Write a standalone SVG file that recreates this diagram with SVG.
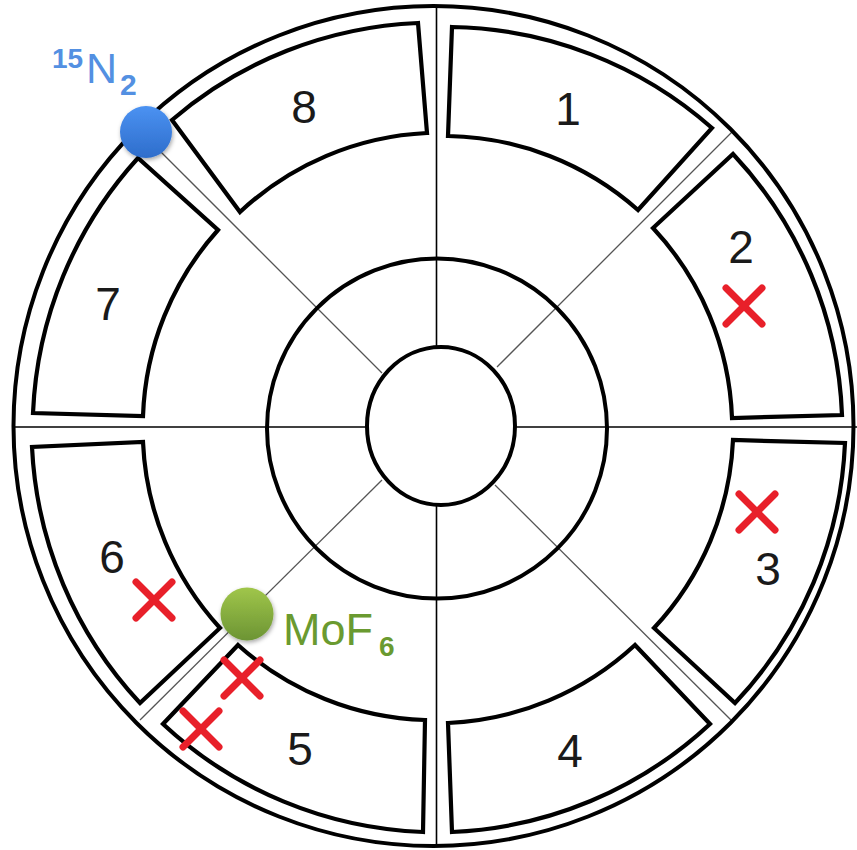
<svg xmlns="http://www.w3.org/2000/svg" width="857" height="850" viewBox="0 0 857 850">
<style>
.ring{fill:none;stroke:#000;stroke-width:4}
.box{fill:#fff;stroke:#000;stroke-width:4.2;stroke-linejoin:miter}
.axis{stroke:#000;stroke-width:1.6}
.diag{stroke:#555;stroke-width:1.3}
.num{font-family:"Liberation Sans",Arial,sans-serif;font-size:46px;fill:#1a1a1a;text-anchor:middle}
.x{stroke:#e8202a;stroke-width:7;stroke-linecap:round}
</style>
<defs>
<linearGradient id="gBlue" x1="0" y1="0" x2="0" y2="1">
<stop offset="0" stop-color="#4b92f2"/>
<stop offset="1" stop-color="#2e6dcb"/>
</linearGradient>
<linearGradient id="gGreen" x1="0" y1="0" x2="0" y2="1">
<stop offset="0" stop-color="#a0c64a"/>
<stop offset="1" stop-color="#6c9434"/>
</linearGradient>
<filter id="sh" x="-40%" y="-40%" width="180%" height="180%">
<feDropShadow dx="1" dy="2" stdDeviation="2" flood-color="#000" flood-opacity="0.35"/>
</filter>
<g id="xmark"><line class="x" x1="-18" y1="-18" x2="18" y2="18"/><line class="x" x1="18" y1="-18" x2="-18" y2="18"/></g>
</defs>
<rect width="857" height="850" fill="#fff"/>
<g id="dividers">
<line class="axis" x1="436.5" y1="8" x2="436.5" y2="347"/>
<line class="axis" x1="436.5" y1="505" x2="436.5" y2="846"/>
<line class="axis" x1="13" y1="427" x2="367" y2="427"/>
<line class="axis" x1="515" y1="427" x2="857" y2="427"/>
<line class="diag" x1="382" y1="373" x2="140" y2="131"/>
<line class="diag" x1="497" y1="367" x2="733" y2="131"/>
<line class="diag" x1="495" y1="485" x2="733" y2="722"/>
<line class="diag" x1="382" y1="480" x2="140" y2="720"/>
</g>
<g id="rings">
<circle class="ring" cx="433.5" cy="426" r="420" stroke-width="3.6"/>
<circle class="ring" cx="437" cy="428.5" r="170"/>
<ellipse class="ring" cx="441" cy="426" rx="74" ry="79"/>
</g>
<g id="box1"><path class="box" d="M452,27 A404,404 0 0 1 712,128 L638,210 A294,294 0 0 0 448,136 Z"/><text class="num" x="568" y="125">1</text></g>
<g id="box2"><path class="box" d="M733,154 A404,404 0 0 1 842,415 L732,418 A294,294 0 0 0 653,228 Z"/><text class="num" x="741" y="263">2</text></g>
<g id="box3"><path class="box" d="M845,443 A404,404 0 0 1 735,703 L654,628 A294,294 0 0 0 733,440 Z"/><text class="num" x="768" y="585">3</text></g>
<g id="box4"><path class="box" d="M710,724 A404,404 0 0 1 452,832 L448,723 A294,294 0 0 0 635,645 Z"/><text class="num" x="570" y="767">4</text></g>
<g id="box5"><path class="box" d="M423,832 A404,404 0 0 1 163,724 L238,645 A294,294 0 0 0 425,720 Z"/><text class="num" x="300" y="765">5</text></g>
<g id="box6"><path class="box" d="M140,703 A404,404 0 0 1 32,447 L143,442 A294,294 0 0 0 220,628 Z"/><text class="num" x="112" y="573">6</text></g>
<g id="box7"><path class="box" d="M33,413 A404,404 0 0 1 138,158 L218,230 A294,294 0 0 0 143,416 Z"/><text class="num" x="108" y="320">7</text></g>
<g id="box8"><path class="box" d="M172,120 A404,404 0 0 1 418,23 L427,133 A294,294 0 0 0 240,212 Z"/><text class="num" x="304" y="123">8</text></g>
<g id="marks">
<use href="#xmark" x="744" y="306"/>
<use href="#xmark" x="757" y="512"/>
<use href="#xmark" x="154" y="600"/>
<use href="#xmark" x="242" y="678"/>
<use href="#xmark" x="201" y="729"/>
</g>
<g id="n2">
<circle cx="146" cy="132" r="26" fill="url(#gBlue)" filter="url(#sh)"/>
<text font-family="Liberation Sans,Arial,sans-serif" fill="#5390e2"><tspan x="52" y="68" font-size="28" font-weight="bold">15</tspan><tspan x="86" y="83" font-size="43">N</tspan><tspan x="120" y="95" font-size="30" font-weight="bold">2</tspan></text>
</g>
<g id="mof6">
<circle cx="247" cy="614" r="26.5" fill="url(#gGreen)" filter="url(#sh)"/>
<text font-family="Liberation Sans,Arial,sans-serif" fill="#6a9a30"><tspan x="283" y="645" font-size="45">MoF</tspan><tspan x="379" y="656" font-size="28" font-weight="bold">6</tspan></text>
</g>
</svg>
